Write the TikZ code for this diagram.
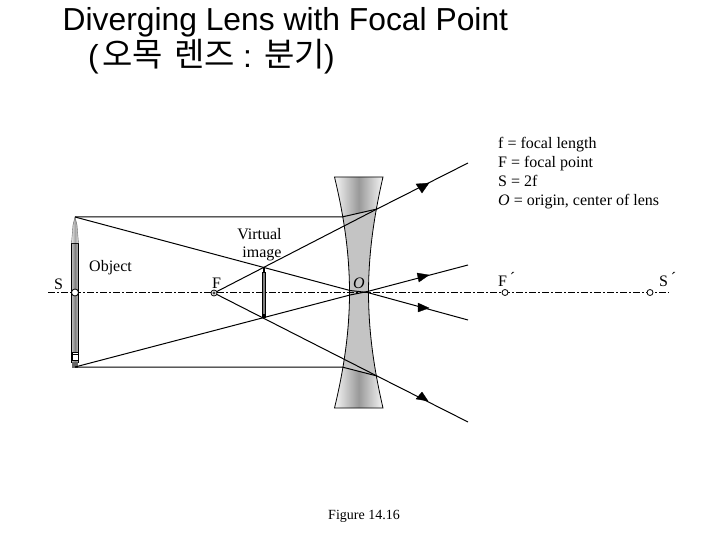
\documentclass[tikz,border=0pt]{standalone}
\usepackage{fontspec}
\setmainfont{Liberation Serif}
\newfontfamily\titlefont{Liberation Sans}
\newfontfamily\krfont{Noto Sans CJK KR}
\usetikzlibrary{arrows.meta}
\tikzset{
  x=1pt,y=-1pt,
  ray/.style={draw=black,line width=1pt},
  axisline/.style={draw=black,line width=0.8pt,dash pattern=on 7pt off 2pt on 2pt off 2pt},
  head/.style={fill=black,draw=black,line width=0.3pt},
  lab/.style={inner sep=0pt,anchor=base west,font=\fontsize{16}{18}\selectfont},
  labc/.style={inner sep=0pt,anchor=base,font=\fontsize{16}{18}\selectfont},
  figlab/.style={inner sep=0pt,anchor=base,font=\fontsize{14}{16}\selectfont},
  ttl/.style={inner sep=0pt,anchor=base west,font=\fontsize{31.8}{36}\selectfont},
  kr/.style={inner sep=0pt,anchor=base west,font=\fontsize{33}{36}\selectfont},
  pt/.style={circle,draw=black,fill=white,line width=0.8pt,minimum size=6pt,inner sep=0pt},
}
\def\lenspath{(334.5,177) -- (383,177) .. controls (363.7,260) and (363.7,325) .. (383,408) -- (334.5,408) .. controls (354.5,325) and (354.5,260) .. (334.5,177) -- cycle}
\begin{document}
\begin{tikzpicture}
\useasboundingbox (0,0) rectangle (720,540);
\fill[white] (0,0) rectangle (720,540);
% lens
\path[left color=white!92!gray,right color=white!92!gray,middle color=black!40,shading angle=90] \lenspath;
\begin{scope}
\clip \lenspath;
\fill[black!23] (330,217) -- (390,209) -- (390,376) -- (330,367) -- cycle;
\end{scope}
\draw[line width=0.8pt] \lenspath;
% object
\path[left color=black!25,right color=black!25,middle color=black!50,shading angle=90] (71.5,243) rectangle (78.5,362);
\draw[line width=0.7pt] (71.5,243) rectangle (78.5,362);
\path[left color=black!10,right color=black!10,middle color=black!35,shading angle=90] (71.5,243) -- (73,225) -- (75,217) -- (77,225) -- (78.5,243) -- cycle;
\draw[line width=0.4pt,draw=black!60] (71.5,243) -- (73,225) -- (75,217) -- (77,225) -- (78.5,243);
\draw[fill=white,line width=0.7pt] (72,352) rectangle (78,360);
\draw[line width=0.7pt] (72,354.5) -- (78,354.5);
\fill[black!60] (71.5,362) rectangle (78,367.5);
% image
\fill[black!50] (262.5,272) rectangle (265.5,317);
\draw[line width=0.6pt] (262.5,272) rectangle (265.5,317);
\fill[black] (262.5,267.5) rectangle (265,272);
\fill[black] (262.5,314) rectangle (265.5,318);
% named points
\coordinate (objtop) at (75,217);
\coordinate (objbot) at (75,367);
\coordinate (lt) at (342,217);
\coordinate (lb) at (342,367);
\coordinate (et) at (377,209);
\coordinate (eb) at (377,376);
\coordinate (ot) at (468,163);
\coordinate (ob) at (468,422);
\coordinate (cu) at (350,290.5);
\coordinate (cd) at (350,295);
\coordinate (cuo) at (367.5,292.5);
\coordinate (cdo) at (367.5,291.5);
\coordinate (or) at (468,320);
\coordinate (ou) at (468,265);
\coordinate (axl) at (48,292.5);
\coordinate (axr) at (669,292.5);
% axis
\draw[axisline] (axl) -- (axr);
% rays
\draw[ray] (objtop) -- (lt) -- (et) -- (ot);
\draw[ray] (objbot) -- (lb) -- (eb) -- (ob);
\draw[ray] (objtop) -- (cu) -- (cuo) -- (or);
\draw[ray] (objbot) -- (cd) -- (cdo) -- (ou);
\node[pt,minimum size=7pt] (S) at (75,292.5) {};
\node[pt,minimum size=6pt] (Fp) at (214,293) {};
\node[pt,minimum size=2.5pt,line width=0.5pt] (Fdot) at (214,293) {};
\draw[ray] (Fp) -- (et);
\draw[ray] (Fp) -- (eb);
\node[pt] (Fr) at (505,292.5) {};
\node[pt] (Sr) at (650,292.5) {};
% arrowheads
\draw[head] (416,184) -- (429,183) -- (422,193) -- cycle;
\draw[head] (417,273) -- (429,275) -- (419,282) -- cycle;
\draw[head] (418,303) -- (429,308) -- (418,312) -- cycle;
\draw[head] (422,392) -- (428,401) -- (416,399) -- cycle;
% labels
\node[ttl] (t1) at (62.5,31) {\titlefont Diverging Lens with Focal Point};
\node[ttl] (t2a) at (88,68) {\titlefont (};
\node[kr] (t2b) at (102,67) {\krfont 오목};
\node[kr] (t2c) at (174,67) {\krfont 렌즈};
\node[ttl] (t2d) at (243,68) {\titlefont :};
\node[kr] (t2e) at (264,67) {\krfont 분기};
\node[ttl] (t2f) at (324,68) {\titlefont )};
\node[lab] (k1) at (498,149) {f = focal length};
\node[lab] (k2) at (498,168) {F = focal point};
\node[lab] (k3) at (498,187) {S = 2f};
\node[lab] (k4) at (498,206) {\textit{O} = origin, center of lens};
\node[labc] (v1) at (259.5,240) {Virtual};
\node[labc] (v2) at (262,257) {image};
\node[lab] (obj) at (89,271) {Object};
\node[lab] (ls) at (54,289) {S};
\node[lab] (lf) at (212,288) {F};
\node[lab] (lo) at (353,288) {\textit{O}};
\node[lab] (lfr) at (498,286) {F\raisebox{3pt}{\,´}};
\node[lab] (lsr) at (659,286) {S\raisebox{3pt}{\,´}};
\node[figlab] (fig) at (364,519) {Figure 14.16};
\end{tikzpicture}
\end{document}
